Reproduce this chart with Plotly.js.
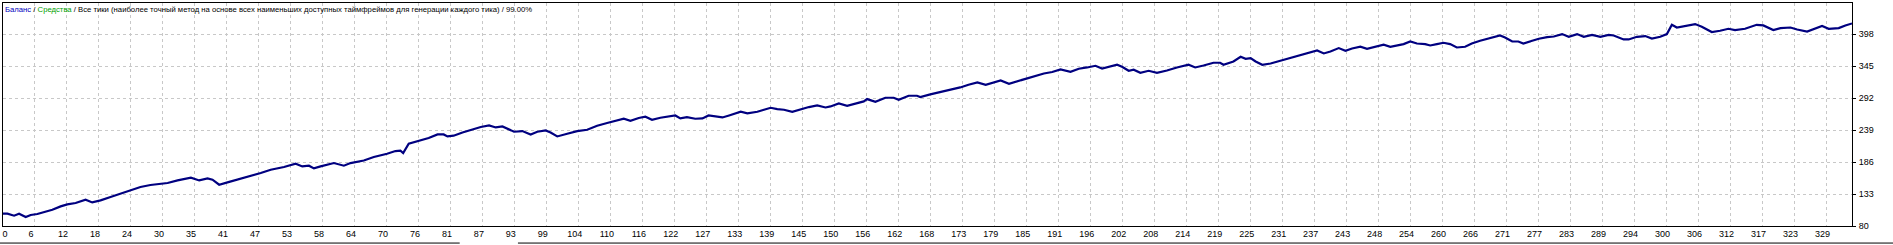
<!DOCTYPE html>
<html>
<head>
<meta charset="utf-8">
<script src="https://cdn.plot.ly/plotly-3.0.1.min.js"></script>
<style>
html,body{margin:0;padding:0;background:#fff;overflow:hidden;}
#chart{width:1893px;height:245px;}
</style>
</head>
<body>
<div id="chart"></div>
<script>
// trade number (x) and balance (y)
const trades = [0,0.8,2.0,2.9,4.1,5.0,6.2,7.4,8.9,10.4,11.6,13.1,14.9,16.1,17.6,19.4,21.2,23.0,24.8,26.6,28.4,29.7,31.5,33.9,35.4,36.9,37.8,39.0,40.5,42.3,44.7,46.5,48.3,50.7,52.8,54.0,55.2,56.1,57.3,59.7,61.5,62.7,65.1,66.9,69.3,70.8,71.7,72.2,73.2,75.3,76.8,78.4,79.5,80.2,81.3,82.9,84.4,
86.2,87.7,88.9,90.1,91.0,92.2,93.7,95.2,96.4,97.9,98.8,100.0,101.8,103.6,105.4,107.2,109.0,110.8,112.0,113.2,114.7,115.9,117.1,118.6,120.4,121.3,122.2,123.4,124.9,126.2,127.3,128.9,129.8,131.0,133.1,134.3,136.1,137.3,138.5,139.7,140.9,142.4,143.9,145.4,146.9,148.4,149.3,150.8,152.3,154.1,155.3,155.9,157.4,159.2,160.7,161.6,163.4,164.9,165.5,167.3,
169.1,170.9,172.7,174.2,175.8,177.3,178.8,180.0,181.5,183.0,184.8,186.6,187.8,189.3,190.8,192.6,194.1,195.6,197.1,198.3,199.8,201.0,201.9,203.1,204.0,205.2,206.7,208.2,210.0,211.8,213.9,215.1,216.6,218.4,219.6,220.2,222.0,223.3,224.2,225.1,226.0,227.2,228.7,230.5,232.3,234.1,235.9,237.1,238.3,239.5,241.0,242.2,243.4,244.9,246.1,247.6,249.1,250.3,251.5,252.7,253.9,
255.1,256.6,257.5,258.7,259.9,261.1,262.3,263.8,265.0,266.5,268.3,270.1,271.0,272.3,273.4,274.3,275.9,277.1,278.6,279.8,281.3,282.5,284.0,285.2,286.7,288.2,289.7,290.6,292.4,293.3,294.8,296.3,297.5,299.0,300.2,301.1,302.0,303.5,305.3,306.5,308.3,309.8,311.3,312.5,314.3,316.4,317.6,319.4,320.7,322.5,323.7,325.5,327.0,328.2,329.4,331.2,332.4,333.6];

const balance = [100.4,100.4,97.1,100.4,94.9,98.2,99.9,102.5,107.0,112.5,115.8,118.1,123.6,119.1,122.4,128.0,133.5,140.1,144.6,147.9,150.1,151.2,155.5,160.0,155.5,158.8,156.7,148.4,152.2,156.7,162.2,167.8,173.2,177.7,183.2,178.7,179.9,175.4,178.7,184.3,179.9,184.3,188.6,194.3,199.7,204.2,204.7,200.9,216.3,221.8,225.8,231.7,231.7,228.4,229.6,235.0,239.5,
244.0,246.6,243.3,245.0,241.6,236.2,237.3,231.7,236.2,238.3,235.0,228.4,232.9,237.3,239.5,246.1,250.6,254.4,257.7,254.4,258.9,261.0,256.1,259.4,262.7,263.2,258.2,260.5,257.7,258.2,263.2,261.5,259.9,263.2,269.3,266.5,269.3,272.6,275.9,273.8,272.6,269.3,273.8,277.1,279.7,276.4,278.1,283.1,279.2,283.7,286.4,290.3,285.9,292.5,292.5,289.2,295.8,295.8,293.7,298.0,
301.6,306.2,309.6,314.0,317.8,314.0,317.3,321.1,315.7,319.5,324.5,329.4,332.7,335.1,339.4,335.6,340.5,342.7,345.5,341.0,344.3,347.2,343.8,337.2,338.9,333.9,337.2,333.9,337.7,342.7,347.2,342.7,346.0,350.5,350.5,347.2,352.6,360.4,357.1,358.3,352.6,347.2,349.3,353.8,358.3,362.6,367.0,370.8,365.9,369.2,374.8,370.3,374.1,377.0,373.6,377.0,380.3,377.0,379.1,381.4,385.7,
382.4,381.4,379.1,381.4,383.6,381.4,375.8,377.0,382.4,386.9,391.4,395.7,392.4,385.7,385.7,382.4,386.9,390.2,393.0,394.0,398.0,393.5,398.0,393.5,396.8,393.5,396.8,395.7,389.1,389.1,393.5,394.7,390.7,393.5,398.0,413.4,408.9,411.3,414.6,410.1,401.3,403.5,406.8,404.6,406.8,413.4,412.3,404.6,407.9,408.9,405.6,402.3,407.9,411.3,406.8,407.9,412.3,415.6];

// axis labels as shown in the reference
const xTickLabels = ["0","6","12","18","24","30","35","41","47","53","58","64","70","76","81","87","93","99","104","110","116","122","127","133","139","145","150","156","162","168","173","179","185","191","196","202","208","214","219","225","231","237","243","248","254","260","266","271","277","283","289","294","300","306","312","317","323","329"];
const yTicks = [80,133,186,239,292,345,398];

const titleParts = ["Баланс", "Средства", "Все тики (наиболее точный метод на основе всех наименьших доступных таймфреймов для генерации каждого тика)", "99.00%"];

const xGridStep = 329 / 57;
const xTickVals = xTickLabels.map((_, i) => i * xGridStep);
const xRange = [0, 333.6];

const trace = {
  x: trades, y: balance, type: 'scatter', mode: 'lines',
  line: {color: '#000080', width: 2.2},
  hoverinfo: 'skip'
};
// empty helper trace so the label-only axis for the first tick is drawn
const helper = {x: [], y: [], type: 'scatter', mode: 'lines', xaxis: 'x2', yaxis: 'y', hoverinfo: 'skip', showlegend: false};

const tickFont = {family: 'Liberation Sans, Arial, sans-serif', size: 9, color: '#000'};

const layout = {
  width: 1893, height: 245,
  margin: {l: 3, r: 41, t: 3, b: 19, pad: 0},
  paper_bgcolor: '#fff', plot_bgcolor: '#fff',
  showlegend: false,
  xaxis: {
    range: xRange, tickmode: 'array', tickvals: xTickVals.slice(1), ticktext: xTickLabels.slice(1),
    showgrid: true, gridcolor: '#c8c8c8', griddash: '3px,3px', gridwidth: 1,
    zeroline: false, showline: true, linecolor: '#000', linewidth: 1, mirror: true,
    ticks: '', tickfont: tickFont, ticklabelshift: -4, ticklabelstandoff: -1, fixedrange: true
  },
  xaxis2: {
    overlaying: 'x', anchor: 'y', side: 'bottom', range: xRange,
    tickmode: 'array', tickvals: xTickVals.slice(0, 1), ticktext: xTickLabels.slice(0, 1),
    showgrid: false, zeroline: false, showline: false, ticks: '',
    tickfont: tickFont, ticklabelshift: 2, ticklabelstandoff: 1, fixedrange: true
  },
  yaxis: {
    range: [80, 449.5], side: 'right', tickmode: 'array', tickvals: yTicks,
    showgrid: true, gridcolor: '#c8c8c8', griddash: '3px,3px', gridwidth: 1,
    zeroline: false, showline: true, linecolor: '#000', linewidth: 1, mirror: true,
    ticks: 'outside', ticklen: 3, tickcolor: '#000', tickwidth: 1,
    tickfont: tickFont, ticklabelstandoff: 1, fixedrange: true
  },
  annotations: [{
    xref: 'paper', yref: 'paper', x: 0, y: 0.972, xanchor: 'left', yanchor: 'middle', xshift: 0,
    showarrow: false, align: 'left',
    font: {family: 'Liberation Sans, Arial, sans-serif', size: 7.7, color: '#000'},
    text: '<span style="color:#0000c0">' + titleParts[0] + '</span> / <span style="color:#00a000">' + titleParts[1] + '</span> / ' + titleParts[2] + ' / ' + titleParts[3]
  }],
  shapes: [
    {type: 'line', xref: 'paper', yref: 'paper', x0: -0.002, x1: 0.2470, y0: -0.0765, y1: -0.0765, line: {color: '#000', width: 1}},
    {type: 'line', xref: 'paper', yref: 'paper', x0: 0.2785, x1: 1.03, y0: -0.0765, y1: -0.0765, line: {color: '#000', width: 1}}
  ]
};

Plotly.newPlot('chart', [trace, helper], layout, {staticPlot: true, displayModeBar: false});
</script>
</body>
</html>
